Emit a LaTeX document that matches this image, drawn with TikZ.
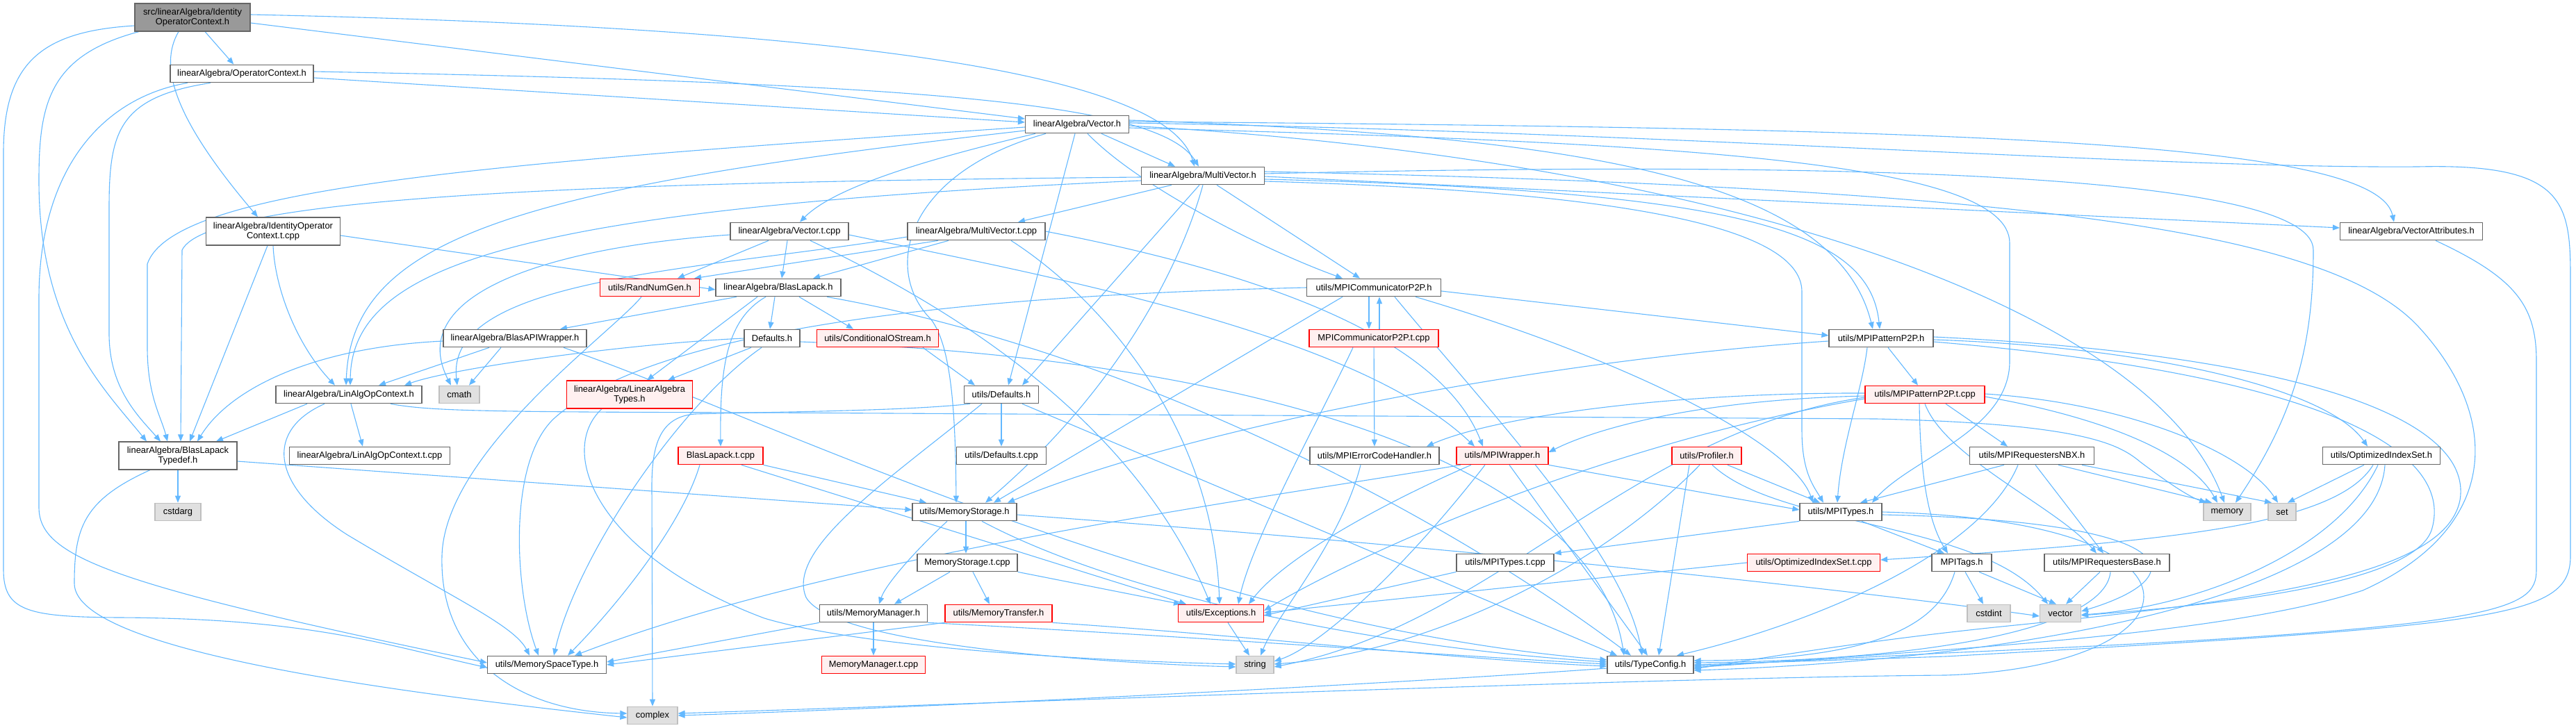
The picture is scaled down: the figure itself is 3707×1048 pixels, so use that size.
\documentclass[tikz,border=0pt]{standalone}
\usepackage{fontspec}
\setmainfont{Liberation Sans}
\usetikzlibrary{arrows.meta, backgrounds}
\definecolor{EdgeBlue}{RGB}{99,184,255}
\definecolor{BoxGrey}{RGB}{102,102,102}
\definecolor{RootGrey}{RGB}{153,153,153}
\definecolor{ExtFill}{RGB}{224,224,224}
\definecolor{ExtLine}{RGB}{191,191,191}
\definecolor{TruncFill}{RGB}{255,240,240}
\begin{document}
\begin{tikzpicture}[x=1pt, y=-1pt, font=\fontsize{12.9}{14.6}\selectfont, nd/.style={draw=BoxGrey, fill=white, line width=1.2pt, minimum height=25.5pt, inner sep=0pt, align=center}, root/.style={nd, fill=RootGrey, minimum height=40pt}, trunc/.style={nd, draw=red, fill=TruncFill}, ext/.style={nd, draw=ExtLine, fill=ExtFill}, tall/.style={minimum height=40pt}, ar/.style={-{Triangle[length=10pt, width=8pt]}, EdgeBlue, line width=1.1pt}]
\useasboundingbox (0,0) rectangle (3707,1048);
\node[root, minimum width=166pt] (ioc) at (277,25) {src/linearAlgebra/Identity\\OperatorContext.h};
\node[nd, minimum width=206pt] (opctx) at (348,106) {linearAlgebra/OperatorContext.h};
\node[nd, minimum width=149pt] (vec) at (1550,179) {linearAlgebra/Vector.h};
\node[nd, minimum width=177pt] (mvec) at (1731,253) {linearAlgebra/MultiVector.h};
\node[nd, tall, minimum width=193pt] (ioctc) at (393,333) {linearAlgebra/IdentityOperator\\Context.t.cpp};
\node[nd, minimum width=170pt] (vectc) at (1136,333) {linearAlgebra/Vector.t.cpp};
\node[nd, minimum width=198pt] (mvectc) at (1405,333) {linearAlgebra/MultiVector.t.cpp};
\node[nd, minimum width=205pt] (vattr) at (3470,333) {linearAlgebra/VectorAttributes.h};
\node[trunc, minimum width=143pt] (rng) at (935,414) {utils/RandNumGen.h};
\node[nd, minimum width=180pt] (blas) at (1120,414) {linearAlgebra/BlasLapack.h};
\node[nd, minimum width=193pt] (comm) at (1977,414) {utils/MPICommunicatorP2P.h};
\node[nd, minimum width=206pt] (bapi) at (741,487) {linearAlgebra/BlasAPIWrapper.h};
\node[nd, minimum width=80pt] (ladef) at (1111,487) {Defaults.h};
\node[trunc, minimum width=175pt] (costr) at (1263,487) {utils/ConditionalOStream.h};
\node[trunc, minimum width=186pt] (commtc) at (1977,487) {MPICommunicatorP2P.t.cpp};
\node[nd, minimum width=150pt] (pat) at (2707,487) {utils/MPIPatternP2P.h};
\node[nd, minimum width=210pt] (laoc) at (502,568) {linearAlgebra/LinAlgOpContext.h};
\node[ext, minimum width=58pt] (cmath) at (661,568) {cmath};
\node[trunc, tall, minimum width=181pt] (latypes) at (906,568) {linearAlgebra/LinearAlgebra\\Types.h};
\node[nd, minimum width=107pt] (udef) at (1441,568) {utils/Defaults.h};
\node[trunc, minimum width=172pt] (pattc) at (2770,568) {utils/MPIPatternP2P.t.cpp};
\node[nd, tall, minimum width=170pt] (bltd) at (256,656) {linearAlgebra/BlasLapack\\Typedef.h};
\node[nd, minimum width=231pt] (laoctc) at (532,656) {linearAlgebra/LinAlgOpContext.t.cpp};
\node[trunc, minimum width=122pt] (blastc) at (1037,656) {BlasLapack.t.cpp};
\node[nd, minimum width=129pt] (udeftc) at (1441,656) {utils/Defaults.t.cpp};
\node[nd, minimum width=186pt] (errh) at (1978,656) {utils/MPIErrorCodeHandler.h};
\node[trunc, minimum width=132pt] (mpiw) at (2162,656) {utils/MPIWrapper.h};
\node[trunc, minimum width=100pt] (prof) at (2456,656) {utils/Profiler.h};
\node[nd, minimum width=179pt] (nbx) at (2924,656) {utils/MPIRequestersNBX.h};
\node[nd, minimum width=169pt] (ois) at (3427,656) {utils/OptimizedIndexSet.h};
\node[ext, minimum width=66pt] (cstdarg) at (256,737) {cstdarg};
\node[nd, minimum width=150pt] (mstor) at (1388,737) {utils/MemoryStorage.h};
\node[nd, minimum width=118pt] (mtypes) at (2649,737) {utils/MPITypes.h};
\node[ext, minimum width=68pt] (stdmemory) at (3205,737) {memory};
\node[ext, minimum width=40pt] (stdset) at (3284,737) {set};
\node[nd, minimum width=144pt] (mstortc) at (1392,810) {MemoryStorage.t.cpp};
\node[nd, minimum width=140pt] (mtypestc) at (2166,810) {utils/MPITypes.t.cpp};
\node[trunc, minimum width=191pt] (oistc) at (2610,810) {utils/OptimizedIndexSet.t.cpp};
\node[nd, minimum width=86pt] (tags) at (2823,810) {MPITags.h};
\node[nd, minimum width=180pt] (rbase) at (3032,810) {utils/MPIRequestersBase.h};
\node[nd, minimum width=155pt] (mman) at (1257,883) {utils/MemoryManager.h};
\node[trunc, minimum width=154pt] (mtrans) at (1437,883) {utils/MemoryTransfer.h};
\node[trunc, minimum width=123pt] (exc) at (1757,883) {utils/Exceptions.h};
\node[ext, minimum width=62pt] (cstdint) at (2862,883) {cstdint};
\node[ext, minimum width=59pt] (stdvector) at (2965,883) {vector};
\node[nd, minimum width=171pt] (memsp) at (787,957) {utils/MemorySpaceType.h};
\node[trunc, minimum width=149pt] (mmantc) at (1257,957) {MemoryManager.t.cpp};
\node[ext, minimum width=54pt] (stdstring) at (1806,957) {string};
\node[nd, minimum width=124pt] (tcfg) at (2375,957) {utils/TypeConfig.h};
\node[ext, minimum width=72pt] (stdcomplex) at (939,1030) {complex};
\begin{scope}[on background layer]
\draw[ar] (ioc) -- (opctx);
\draw[ar] ([xshift=-20pt]ioc.south) .. controls (228,95) and (250,170) .. ([xshift=-22pt]ioctc.north);
\draw[ar] ([yshift=-8pt]ioc.east) -- ([yshift=8pt]vec.west);
\draw[ar] ([yshift=4pt]ioc.east) .. controls (1250,40) and (1680,110) .. ([xshift=-12pt]mvec.north);
\draw[ar] ([xshift=-77pt]ioc.south) .. controls (70,80) and (56,150) .. (56,260) .. controls (56,470) and (150,560) .. ([xshift=-45pt]bltd.north);
\draw[ar] ([yshift=-12pt]ioc.west) .. controls (60,45) and (5,90) .. (5,220) -- (5,820) .. controls (5,880) and (40,888) .. (170,889) .. controls (450,890) and (560,930) .. ([yshift=-4pt]memsp.west);
\draw[ar] ([yshift=-6pt]opctx.east) -- ([yshift=3pt]vec.west);
\draw[ar] ([yshift=3pt]opctx.east) .. controls (1350,120) and (1670,150) .. ([xshift=-6pt]mvec.north);
\draw[ar] ([xshift=-45pt]opctx.south) .. controls (170,140) and (157,190) .. (157,300) -- (157,480) .. controls (157,560) and (200,600) .. ([xshift=-25pt]bltd.north);
\draw[ar] ([xshift=-78pt]opctx.south) .. controls (150,140) and (56,240) .. (56,430) -- (56,730) .. controls (56,800) and (150,840) .. ([yshift=3pt]memsp.west);
\draw[ar] ([xshift=-8pt]ioctc.south) -- ([xshift=17pt]bltd.north);
\draw[ar] (ioctc.south) .. controls (396,420) and (430,500) .. ([xshift=-20pt]laoc.north);
\draw[ar] ([yshift=-6pt]ioctc.east) -- ([yshift=-3pt]blas.west);
\draw[ar] ([xshift=35pt]vec.south) -- ([xshift=-40pt]mvec.north);
\draw[ar] ([xshift=-60pt]vec.south) .. controls (1330,230) and (1200,270) .. ([xshift=15pt]vectc.north);
\draw[ar] ([yshift=-4pt]vec.west) .. controls (700,235) and (250,270) .. (212,380) -- (212,500) .. controls (212,570) and (232,600) .. ([xshift=-15pt]bltd.north);
\draw[ar] ([yshift=-9pt]vec.west) .. controls (750,270) and (506,340) .. ([xshift=-4pt]laoc.north);
\draw[ar] ([xshift=-3pt]vec.south) -- ([xshift=10pt]udef.north);
\draw[ar] ([xshift=-45pt]vec.south) .. controls (1300,250) and (1270,390) .. (1340,460) .. controls (1370,500) and (1375,600) .. ([xshift=-12pt]mstor.north);
\draw[ar] ([xshift=15pt]vec.south) .. controls (1640,270) and (1820,360) .. ([xshift=-45pt]comm.north);
\draw[ar] ([yshift=6pt]vec.east) .. controls (2250,195) and (2640,250) .. ([xshift=-12pt]pat.north);
\draw[ar] ([yshift=4pt]vec.east) .. controls (2800,185) and (3420,200) .. ([xshift=-25pt]vattr.north);
\draw[ar] ([yshift=2pt]vec.east) .. controls (2400,190) and (3100,243) .. (3480,240) .. controls (3690,235) and (3699,290) .. (3699,400) -- (3699,800) .. controls (3699,890) and (3600,900) .. (2800,945) -- (tcfg.east);
\draw[ar] ([yshift=-2pt]vec.east) .. controls (2500,230) and (3100,450) .. ([xshift=-4pt]stdmemory.north);
\draw[ar] ([yshift=-5pt]vec.east) .. controls (2400,205) and (2892,230) .. (2892,350) -- (2892,520) .. controls (2892,620) and (2750,660) .. ([xshift=45pt]mtypes.north);
\draw[ar] ([xshift=-45pt]mvec.south) -- ([xshift=60pt]mvectc.north);
\draw[ar] ([yshift=-2pt]mvec.west) .. controls (900,262) and (300,280) .. (262,360) -- ([xshift=4pt]bltd.north);
\draw[ar] ([yshift=-7pt]mvec.west) .. controls (750,300) and (506,380) .. ([xshift=2pt]laoc.north);
\draw[ar] ([xshift=-5pt]mvec.south) -- ([xshift=30pt]udef.north);
\draw[ar] (mvec.south) .. controls (1700,380) and (1610,560) .. ([xshift=30pt]mstor.north);
\draw[ar] ([xshift=20pt]mvec.south) -- ([xshift=-20pt]comm.north);
\draw[ar] ([yshift=-5pt]mvec.east) .. controls (2500,275) and (2690,330) .. ([xshift=-2pt]pat.north);
\draw[ar] ([yshift=-1pt]mvec.east) -- ([yshift=5pt]vattr.west);
\draw[ar] ([yshift=3pt]mvec.east) .. controls (2600,232) and (3329,245) .. (3329,360) .. controls (3329,500) and (3300,600) .. ([xshift=12pt]stdmemory.north);
\draw[ar] ([yshift=6pt]mvec.east) .. controls (2900,270) and (3350,330) .. (3480,470) .. controls (3600,600) and (3600,760) .. (3400,850) .. controls (3200,915) and (2800,935) .. ([yshift=-4pt]tcfg.east);
\draw[ar] ([yshift=-8pt]mvec.east) .. controls (2300,275) and (2593,320) .. (2593,420) -- (2593,620) .. controls (2593,680) and (2610,700) .. ([xshift=-25pt]mtypes.north);
\draw[ar] ([xshift=-30pt]vectc.south) -- ([xshift=40pt]rng.north);
\draw[ar] ([xshift=-3pt]vectc.south) -- ([xshift=5pt]blas.north);
\draw[ar] ([yshift=-5pt]vectc.west) .. controls (800,355) and (580,420) .. ([xshift=-12pt]cmath.north);
\draw[ar] ([xshift=30pt]vectc.south) .. controls (1450,480) and (1650,650) .. ([xshift=-15pt]exc.north);
\draw[ar] ([yshift=-5pt]vectc.east) .. controls (1520,400) and (1950,480) .. ([xshift=-40pt]mpiw.north);
\draw[ar] ([xshift=-55pt]mvectc.south) -- ([xshift=-8pt]rng.north east);
\draw[ar] ([xshift=-40pt]mvectc.south) -- ([xshift=50pt]blas.north);
\draw[ar] ([yshift=-8pt]mvectc.west) .. controls (1000,390) and (640,400) .. ([xshift=-3pt]cmath.north);
\draw[ar] ([xshift=50pt]mvectc.south) .. controls (1570,420) and (1745,600) .. ([xshift=-2pt]exc.north);
\draw[ar] (mvectc.east) .. controls (1800,390) and (2070,480) .. ([xshift=-28pt]mpiw.north);
\draw[ar] ([xshift=-60pt]blas.south) -- ([xshift=65pt]bapi.north);
\draw[ar] ([xshift=-5pt]blas.south) -- ([xshift=-3pt]ladef.north);
\draw[ar] ([xshift=30pt]blas.south) -- ([xshift=-35pt]costr.north);
\draw[ar] ([xshift=-30pt]blas.south) -- ([xshift=25pt]latypes.north);
\draw[ar] ([xshift=-18pt]blas.south) .. controls (1045,460) and (1036,530) .. (blastc.north);
\draw[ar] ([xshift=70pt]blas.south) .. controls (1600,500) and (2050,720) .. ([xshift=-28pt]tcfg.north);
\draw[ar] ([yshift=-4pt]bapi.west) .. controls (450,500) and (330,560) .. ([xshift=28pt]bltd.north);
\draw[ar] ([xshift=-37pt]bapi.south) -- ([xshift=43pt]laoc.north);
\draw[ar] ([xshift=-20pt]bapi.south) -- ([xshift=14pt]cmath.north);
\draw[ar] ([xshift=70pt]bapi.south) .. controls (1100,600) and (1700,900) .. ([yshift=7pt]tcfg.west);
\draw[ar] (ladef.west) .. controls (900,495) and (650,530) .. ([xshift=80pt]laoc.north);
\draw[ar] ([xshift=-30pt]ladef.south) -- ([xshift=55pt]latypes.north);
\draw[ar] ([xshift=-15pt]ladef.south) .. controls (980,580) and (830,800) .. ([xshift=10pt]memsp.north);
\draw[ar] ([yshift=-5pt]ladef.east) .. controls (1900,520) and (2300,700) .. ([xshift=-38pt]tcfg.north);
\draw[ar] ([xshift=65pt]costr.south) -- ([xshift=-38pt]udef.north);
\draw[ar] ([xshift=-7pt]comm.south) -- ([xshift=-7pt]commtc.north);
\draw[ar] ([xshift=8pt]commtc.north) -- ([xshift=8pt]comm.south);
\draw[ar] ([yshift=-5pt]comm.east) -- ([yshift=4pt]pat.west);
\draw[ar] ([xshift=-45pt]comm.south) -- ([xshift=42pt]mstor.north);
\draw[ar] ([xshift=30pt]comm.south) .. controls (2150,600) and (2340,800) .. ([xshift=-12pt]tcfg.north);
\draw[ar] ([xshift=60pt]comm.south) .. controls (2350,520) and (2580,640) .. ([xshift=-40pt]mtypes.north);
\draw[ar] (comm.west) .. controls (1400,425) and (950,470) .. (800,600) .. controls (730,660) and (740,850) .. ([xshift=-12pt]memsp.north);
\draw[ar] (commtc) -- (errh);
\draw[ar] ([xshift=-30pt]commtc.south) .. controls (1900,600) and (1800,780) .. ([xshift=25pt]exc.north);
\draw[ar] ([xshift=10pt]pat.south) -- ([xshift=-10pt]pattc.north);
\draw[ar] ([xshift=-20pt]pat.south) .. controls (2680,560) and (2650,640) .. ([xshift=-5pt]mtypes.north);
\draw[ar] ([yshift=-2pt]pat.east) .. controls (3100,500) and (3350,560) .. ([xshift=-20pt]ois.north);
\draw[ar] ([yshift=2pt]pat.east) .. controls (3300,510) and (3560,600) .. (3540,720) .. controls (3520,820) and (3300,860) .. (2900,900) .. controls (2700,920) and (2550,945) .. ([yshift=-6pt]tcfg.east);
\draw[ar] ([yshift=-5pt]pat.east) .. controls (3350,540) and (3530,650) .. (3500,760) .. controls (3480,840) and (3200,870) .. ([yshift=-3pt]stdvector.east);
\draw[ar] ([yshift=-4pt]pat.west) .. controls (2200,520) and (1700,620) .. ([xshift=62pt]mstor.north);
\draw[ar] ([xshift=-8pt]pattc.south) .. controls (2763,650) and (2768,740) .. ([xshift=-20pt]tags.north);
\draw[ar] (pattc.south) .. controls (2800,660) and (2960,730) .. ([xshift=-15pt]rbase.north);
\draw[ar] ([xshift=30pt]pattc.south) -- ([xshift=-35pt]nbx.north);
\draw[ar] ([yshift=-3pt]pattc.east) .. controls (3020,600) and (3150,650) .. ([xshift=-14pt]stdmemory.north);
\draw[ar] ([yshift=1pt]pattc.east) .. controls (3060,580) and (3230,650) .. ([xshift=-6pt]stdset.north);
\draw[ar] ([yshift=-2pt]pattc.west) .. controls (2450,575) and (2300,615) .. ([yshift=5pt]mpiw.east);
\draw[ar] ([yshift=2pt]pattc.west) .. controls (2400,565) and (2150,600) .. ([xshift=75pt]errh.north);
\draw[ar] ([yshift=-6pt]pattc.west) .. controls (2300,640) and (1950,800) .. ([yshift=4pt]exc.east);
\draw[ar] ([yshift=-4pt]pattc.west) .. controls (2350,620) and (2150,900) .. ([yshift=-3pt]stdstring.east);
\draw[ar] ([xshift=-20pt]errh.south) .. controls (1930,780) and (1840,880) .. ([xshift=8pt]stdstring.north);
\draw[ar] (mpiw.south east) -- ([yshift=3pt]mtypes.west);
\draw[ar] ([xshift=10pt]mpiw.south) -- ([xshift=-4pt]tcfg.north);
\draw[ar] ([xshift=-45pt]mpiw.south) .. controls (2000,720) and (1850,800) .. ([xshift=40pt]exc.north);
\draw[ar] ([xshift=-25pt]mpiw.south) .. controls (2020,820) and (1900,930) .. ([yshift=5pt]stdstring.east);
\draw[ar] ([xshift=-60pt]mpiw.south) .. controls (1800,720) and (1200,800) .. ([xshift=40pt]memsp.north);
\draw[ar] ([xshift=30pt]prof.south) -- ([xshift=-30pt]mtypes.north);
\draw[ar] ([xshift=-25pt]prof.south) -- ([xshift=12pt]tcfg.north);
\draw[ar] ([xshift=-10pt]prof.south) .. controls (2300,820) and (2050,940) .. ([yshift=1pt]stdstring.east);
\draw[ar] ([xshift=8pt]prof.south) .. controls (2560,760) and (2850,750) .. ([xshift=-18pt]stdvector.north);
\draw[ar] (mtypes.south west) -- (mtypestc.north east);
\draw[ar] ([xshift=30pt]mtypes.south) -- ([xshift=-25pt]tags.north);
\draw[ar] ([yshift=-4pt]mtypes.east) .. controls (3150,750) and (3160,830) .. ([yshift=3pt]stdvector.east);
\draw[ar] (mtypes.east) .. controls (3220,750) and (3170,960) .. (2800,972) .. controls (2400,975) and (1500,1010) .. ([yshift=3pt]stdcomplex.east);
\draw[ar] (mtypestc.south west) -- ([yshift=-3pt]exc.east);
\draw[ar] (oistc.west) -- ([yshift=1pt]exc.east);
\draw[ar] ([xshift=-25pt]ois.south) -- ([xshift=8pt]stdset.north);
\draw[ar] ([xshift=-12pt]ois.south) .. controls (3360,760) and (3100,780) .. ([yshift=4pt]oistc.east);
\draw[ar] ([xshift=-5pt]ois.south) .. controls (3360,800) and (3150,875) .. ([yshift=-2pt]stdvector.east);
\draw[ar] ([xshift=5pt]ois.south) .. controls (3420,860) and (2900,950) .. ([yshift=-8pt]tcfg.east);
\draw[ar] ([xshift=-40pt]nbx.south) -- ([xshift=28pt]mtypes.north);
\draw[ar] ([xshift=5pt]nbx.south) -- ([xshift=-5pt]rbase.north);
\draw[ar] ([xshift=38pt]nbx.south) -- ([xshift=-22pt]stdmemory.north);
\draw[ar] ([xshift=72pt]nbx.south) -- ([xshift=-15pt]stdset.north);
\draw[ar] ([xshift=-20pt]nbx.south) .. controls (2850,800) and (2600,900) .. ([xshift=38pt]tcfg.north);
\draw[ar] ([xshift=5pt]tags.south) -- ([xshift=-8pt]cstdint.north);
\draw[ar] ([xshift=25pt]tags.south) -- ([xshift=-6pt]stdvector.north);
\draw[ar] ([xshift=-10pt]tags.south) .. controls (2790,900) and (2700,950) .. ([yshift=6pt]tcfg.east);
\draw[ar] ([xshift=-10pt]rbase.south) -- ([xshift=8pt]stdvector.north);
\draw[ar] ([xshift=5pt]rbase.south) .. controls (3030,900) and (2800,950) .. ([yshift=3pt]tcfg.east);
\draw[ar] ([xshift=2pt]mstor.south) -- ([xshift=-2pt]mstortc.north);
\draw[ar] ([xshift=-25pt]mstor.south) .. controls (1320,790) and (1275,840) .. ([xshift=8pt]mman.north);
\draw[ar] ([xshift=25pt]mstor.south) .. controls (1600,850) and (1950,930) .. ([yshift=4pt]tcfg.west);
\draw[ar] ([yshift=-4pt]mstor.east) .. controls (2000,780) and (2600,840) .. ([yshift=-4pt]stdvector.west);
\draw[ar] ([xshift=-25pt]mstortc.south) -- ([xshift=30pt]mman.north);
\draw[ar] ([xshift=8pt]mstortc.south) -- ([xshift=-13pt]mtrans.north);
\draw[ar] (mstortc.south east) -- ([xshift=-58pt]exc.north);
\draw[ar] (mman) -- (mmantc);
\draw[ar] (mman.south west) -- ([yshift=4pt]memsp.east);
\draw[ar] (mman.south east) .. controls (1700,915) and (2100,945) .. ([yshift=1pt]tcfg.west);
\draw[ar] (mtrans.south west) -- (memsp.east);
\draw[ar] (mtrans.south east) .. controls (1800,915) and (2100,950) .. ([yshift=-2pt]tcfg.west);
\draw[ar] ([xshift=10pt]exc.south) -- ([xshift=-8pt]stdstring.north);
\draw[ar] ([xshift=-40pt]latypes.south) .. controls (800,650) and (860,800) .. (1100,890) .. controls (1250,935) and (1600,952) .. ([yshift=1pt]stdstring.west);
\draw[ar] ([xshift=-60pt]laoc.south) -- ([xshift=55pt]bltd.north);
\draw[ar] ([xshift=3pt]laoc.south) -- ([xshift=-10pt]laoctc.north);
\draw[ar] ([xshift=-35pt]laoc.south) .. controls (380,620) and (390,700) .. (500,770) .. controls (650,860) and (740,900) .. ([xshift=-25pt]memsp.north);
\draw[ar] ([xshift=60pt]laoc.south) .. controls (620,592) and (700,593) .. (1100,594) -- (2700,603) .. controls (3000,610) and (3050,640) .. (3080,665) .. controls (3120,695) and (3150,715) .. ([xshift=-30pt]stdmemory.north);
\draw[ar] (udef) -- (udeftc);
\draw[ar] ([xshift=-45pt]udef.south) .. controls (1300,592) and (1100,593) .. (1000,596) .. controls (950,600) and (938,640) .. (938,700) -- (stdcomplex.north);
\draw[ar] ([xshift=-28pt]udef.south) .. controls (1280,690) and (1130,790) .. (1160,860) .. controls (1200,930) and (1600,955) .. ([yshift=-3pt]stdstring.west);
\draw[ar] ([xshift=30pt]udef.south) -- ([xshift=-48pt]tcfg.north);
\draw[ar] (blastc.south east) -- ([xshift=-55pt]mstor.north);
\draw[ar] ([xshift=30pt]blastc.south) -- ([xshift=-50pt]exc.north);
\draw[ar] ([xshift=-30pt]blastc.south) .. controls (980,760) and (880,880) .. ([xshift=30pt]memsp.north);
\draw[ar] (bltd) -- (cstdarg);
\draw[ar] ([xshift=-40pt]bltd.south) .. controls (120,720) and (107,760) .. (107,840) .. controls (107,940) and (600,1000) .. ([yshift=-3pt]stdcomplex.west);
\draw[ar] ([yshift=-8pt]bltd.east) -- ([yshift=3pt]mstor.west);
\draw[ar] ([xshift=-12pt]rng.south) .. controls (880,480) and (640,650) .. (636,800) .. controls (632,950) and (750,1025) .. ([yshift=3pt]stdcomplex.west);
\draw[ar] ([yshift=-5pt]tcfg.west) .. controls (2000,985) and (1300,1020) .. (stdcomplex.east);
\draw[ar] ([xshift=35pt]vattr.south) .. controls (3620,400) and (3650,440) .. (3650,520) -- (3650,820) .. controls (3650,880) and (3600,905) .. (2800,940) -- ([yshift=-2pt]tcfg.east);
\end{scope}
\end{tikzpicture}
\end{document}
